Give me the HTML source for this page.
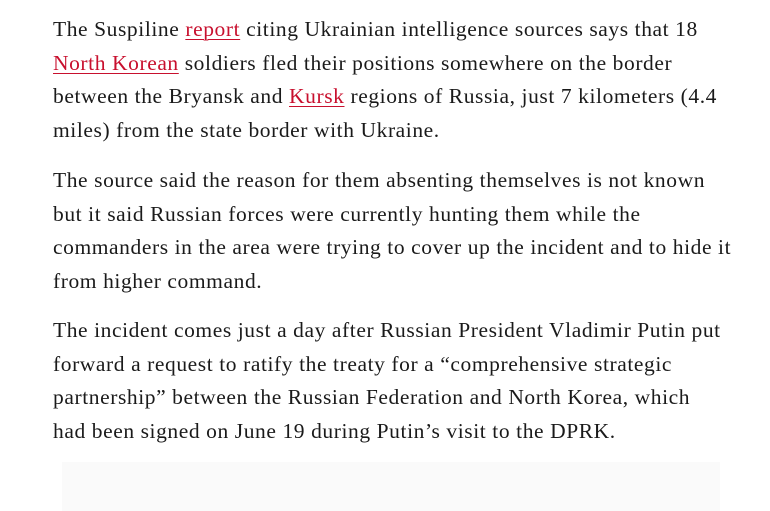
<!DOCTYPE html>
<html><head><meta charset="utf-8"><style>
body{margin:0;width:770px;height:511px;background:#fff;overflow:hidden;position:relative;font-family:"Liberation Serif",serif;}
.l{position:absolute;left:53px;font-size:21.5px;line-height:34px;height:34px;white-space:nowrap;color:#1a1a1a;letter-spacing:0.58px;}
a{color:#c8102e;text-decoration:underline;text-decoration-thickness:1px;text-underline-offset:3px;}
.box{position:absolute;left:62px;top:462px;width:658px;height:49px;background:#fafafa;}
</style></head><body>
<div>
<div class="l" style="top:12px">The Suspiline <a>report</a> citing Ukrainian intelligence sources says that 18</div>
<div class="l" style="top:45.5px"><a>North Korean</a> soldiers fled their positions somewhere on the border</div>
<div class="l" style="top:79px">between the Bryansk and <a>Kursk</a> regions of Russia, just 7 kilometers (4.4</div>
<div class="l" style="top:112.5px">miles) from the state border with Ukraine.</div>
</div>
<div>
<div class="l" style="top:163px">The source said the reason for them absenting themselves is not known</div>
<div class="l" style="top:196.5px">but it said Russian forces were currently hunting them while the</div>
<div class="l" style="top:230px">commanders in the area were trying to cover up the incident and to hide it</div>
<div class="l" style="top:263.5px">from higher command.</div>
</div>
<div>
<div class="l" style="top:313px">The incident comes just a day after Russian President Vladimir Putin put</div>
<div class="l" style="top:346.5px">forward a request to ratify the treaty for a “comprehensive strategic</div>
<div class="l" style="top:380px">partnership” between the Russian Federation and North Korea, which</div>
<div class="l" style="top:413.5px">had been signed on June 19 during Putin’s visit to the DPRK.</div>
</div>
<div class="box"></div>
</body></html>
